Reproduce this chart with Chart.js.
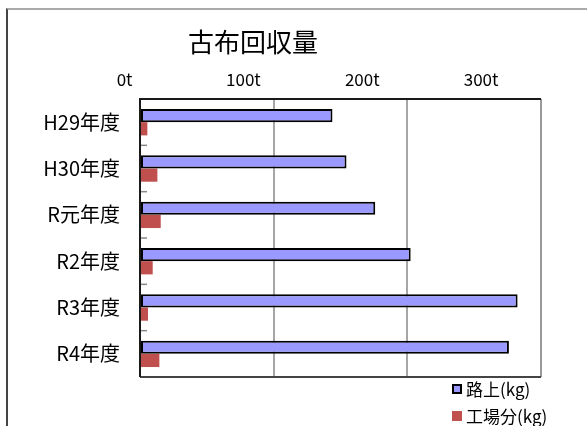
<!DOCTYPE html>
<html>
<head>
<meta charset="utf-8">
<script src="https://cdn.jsdelivr.net/npm/chart.js@4/dist/chart.umd.min.js"></script>
<style>
  html, body { margin: 0; padding: 0; background: #fff; }
  body { width: 587px; height: 426px; overflow: hidden; position: relative;
         font-family: "Noto Sans CJK JP", "Noto Sans", sans-serif; color: #000; }
  #frame { position: absolute; left: 6px; top: 8px; width: 700px; height: 500px;
           border-top: 2px solid #aaa; border-left: 2px solid #444; }
  #chart { position: absolute; left: 0; top: 0; }
  #title { position: absolute; left: 148px; width: 210px; top: 24px; text-align: center;
           font-size: 26px; line-height: 34px; }
  #legend { position: absolute; left: 452px; top: 375px; }
  .item { display: flex; align-items: center; height: 27px; font-size: 17px; }
  .swatch { width: 10px; height: 10px; margin-right: 4px; box-sizing: border-box; }
</style>
</head>
<body>
<div id="frame"></div>
<canvas id="chart" width="587" height="426"></canvas>
<div id="title">古布回収量</div>
<div id="legend"></div>
<script>
// chart values (t)
const categories = ['H29年度', 'H30年度', 'R元年度', 'R2年度', 'R3年度', 'R4年度'];
const roadside = [144, 154.5, 176, 202.5, 282.5, 276];
const factory = [5.5, 13, 15.5, 9.5, 6, 14.5];
const xTicks = [0, 100, 200, 300];
const seriesNames = ['路上(kg)', '工場分(kg)'];

const FONT = '"Noto Sans CJK JP", "Noto Sans", sans-serif';

// plot box border + small inward ticks between categories
const plotFrame = {
    id: 'plotFrame',
    afterDatasetsDraw(chart) {
        const { ctx, chartArea: a } = chart;
        const y = chart.scales.y;
        ctx.save();
        // category separators on the left axis
        ctx.strokeStyle = '#888';
        ctx.lineWidth = 1.5;
        for (let i = 0; i < categories.length - 1; i++) {
            const py = (y.getPixelForTick(i) + y.getPixelForTick(i + 1)) / 2;
            ctx.beginPath();
            ctx.moveTo(a.left, py);
            ctx.lineTo(a.left + 7, py);
            ctx.stroke();
        }
        ctx.lineWidth = 2;
        ctx.strokeStyle = '#999';
        ctx.beginPath();
        ctx.moveTo(a.right, a.top);
        ctx.lineTo(a.right, a.bottom);
        ctx.stroke();
        ctx.strokeStyle = '#444';
        ctx.beginPath();
        ctx.moveTo(a.left, a.bottom);
        ctx.lineTo(a.right, a.bottom);
        ctx.stroke();
        ctx.strokeStyle = '#1a1a1a';
        ctx.beginPath();
        ctx.moveTo(a.left, a.bottom);
        ctx.lineTo(a.left, a.top);
        ctx.lineTo(a.right, a.top);
        ctx.stroke();
        ctx.restore();
    }
};

const datasets = [
    {
        label: seriesNames[0],
        data: roadside,
        backgroundColor: '#9999FF',
        borderColor: '#000',
        borderWidth: 2,
        borderSkipped: false
    },
    {
        label: seriesNames[1],
        data: factory,
        backgroundColor: '#C0504D',
        borderWidth: 0
    }
];

new Chart(document.getElementById('chart'), {
    type: 'bar',
    data: { labels: categories, datasets: datasets },
    options: {
        indexAxis: 'y',
        responsive: false,
        animation: false,
        categoryPercentage: 0.57,
        barPercentage: 1,
        layout: { padding: { left: 0, top: 0, right: 46, bottom: 49 } },
        scales: {
            x: {
                type: 'linear',
                position: 'top',
                weight: 0,
                min: 0,
                max: 300,
                ticks: { display: false, stepSize: 100 },
                grid: { color: '#a6a6a6', lineWidth: 2, drawTicks: false },
                border: { display: false },
                afterFit(s) { s.height = 0; }
            },
            // label axis: the tick texts sit a bit left of the gridlines in the original
            xLabels: {
                type: 'linear',
                position: 'top',
                weight: 1,
                min: 13,
                max: 350.4,
                afterBuildTicks(s) { s.ticks = xTicks.map(v => ({ value: v })); },
                ticks: {
                    color: '#000',
                    font: { family: FONT, size: 17 },
                    padding: 9,
                    maxRotation: 0,
                    autoSkip: false,
                    callback: v => v + 't'
                },
                grid: { display: false, drawTicks: false },
                border: { display: false },
                afterFit(s) { s.height = 99; }
            },
            y: {
                position: 'left',
                ticks: {
                    color: '#000',
                    font: { family: FONT, size: 20 },
                    padding: 20
                },
                grid: { display: false, drawTicks: false },
                border: { display: false },
                afterFit(s) { s.width = 140; }
            }
        },
        plugins: {
            legend: { display: false },
            tooltip: { enabled: false }
        }
    },
    plugins: [plotFrame]
});

// legend stacked at bottom right, built from the datasets
const legend = document.getElementById('legend');
datasets.forEach(ds => {
    const row = document.createElement('div');
    row.className = 'item';
    const sw = document.createElement('span');
    sw.className = 'swatch';
    sw.style.background = ds.backgroundColor;
    if (ds.borderWidth) sw.style.border = ds.borderWidth + 'px solid ' + ds.borderColor;
    row.appendChild(sw);
    row.appendChild(document.createTextNode(ds.label));
    legend.appendChild(row);
});
</script>
</body>
</html>
